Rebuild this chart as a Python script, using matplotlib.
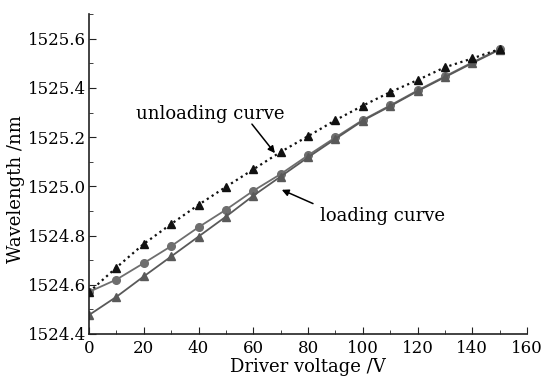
import matplotlib
matplotlib.use("Agg")
import matplotlib.pyplot as plt
from matplotlib.ticker import MultipleLocator

plt.rcParams['font.family'] = ['DejaVu Serif']
plt.rcParams['mathtext.fontset'] = 'dejavuserif'

voltage = [0, 10, 20, 30, 40, 50, 60, 70, 80, 90, 100, 110, 120, 130, 140, 150]

# unloading curve (dotted)
unloading = [1524.57, 1524.67, 1524.766, 1524.847, 1524.925, 1524.998, 1525.069, 1525.14,
             1525.204, 1525.269, 1525.328, 1525.383, 1525.432, 1525.484, 1525.52, 1525.558]
# loading curve, circles
loading_a = [1524.571, 1524.621, 1524.688, 1524.757, 1524.834, 1524.905, 1524.982, 1525.05,
             1525.126, 1525.199, 1525.27, 1525.329, 1525.39, 1525.447, 1525.504, 1525.558]
# loading curve, triangles
loading_b = [1524.477, 1524.551, 1524.634, 1524.715, 1524.796, 1524.877, 1524.962, 1525.04,
             1525.118, 1525.193, 1525.267, 1525.326, 1525.387, 1525.444, 1525.501, 1525.556]

fig = plt.figure(figsize=(5.44, 3.82), dpi=100)
ax = fig.add_axes([0.1636, 0.1257, 0.8054, 0.8373])

ax.plot(voltage, loading_a, color='#6e6e6e', lw=1.3, marker='o', ms=5.5, zorder=2)
ax.plot(voltage, loading_b, color='#595959', lw=1.3, marker='^', ms=6, zorder=2)
ax.plot(voltage, unloading, color='#111111', lw=1.6, ls=(0, (1, 1.6)), marker='^', ms=6,
        zorder=3)

ax.set_xlim(0, 160)
ax.set_ylim(1524.4, 1525.7)
ax.xaxis.set_major_locator(MultipleLocator(20))
ax.xaxis.set_minor_locator(MultipleLocator(10))
ax.yaxis.set_major_locator(MultipleLocator(0.2))
ax.yaxis.set_minor_locator(MultipleLocator(0.1))
ax.yaxis.set_major_formatter(plt.FuncFormatter(lambda v, p: f"{v:.1f}" if v < 1525.65 else ""))
ax.tick_params(which='both', direction='in', labelsize=12, pad=2, color='#222222')
ax.tick_params(axis='x', pad=4)
ax.tick_params(which='major', length=5)
ax.tick_params(which='minor', length=3)
ax.spines['top'].set_visible(False)
ax.spines['right'].set_visible(False)
for s in ('left', 'bottom'):
    ax.spines[s].set_linewidth(1.2)
    ax.spines[s].set_color('#222222')

ax.set_xlabel('Driver voltage /V', fontsize=13, labelpad=1)
ax.set_ylabel('Wavelength /nm', fontsize=13)
ax.yaxis.set_label_coords(-0.146, 0.453)

# annotation texts and arrows
ax.text(17, 1525.293, 'unloading curve', fontsize=13, ha='left', va='center')
ax.annotate('', xy=(67.9, 1525.135), xytext=(59.5, 1525.253),
            arrowprops=dict(arrowstyle='-|>', color='black', lw=1.1, shrinkA=0,
                            shrinkB=0, mutation_scale=10))
ax.text(84.5, 1524.881, 'loading curve', fontsize=13, ha='left', va='center')
ax.annotate('', xy=(70.4, 1524.986), xytext=(81.8, 1524.93),
            arrowprops=dict(arrowstyle='-|>', color='black', lw=1.1, shrinkA=0,
                            shrinkB=0, mutation_scale=10))

fig.savefig('out.png', dpi=100)
